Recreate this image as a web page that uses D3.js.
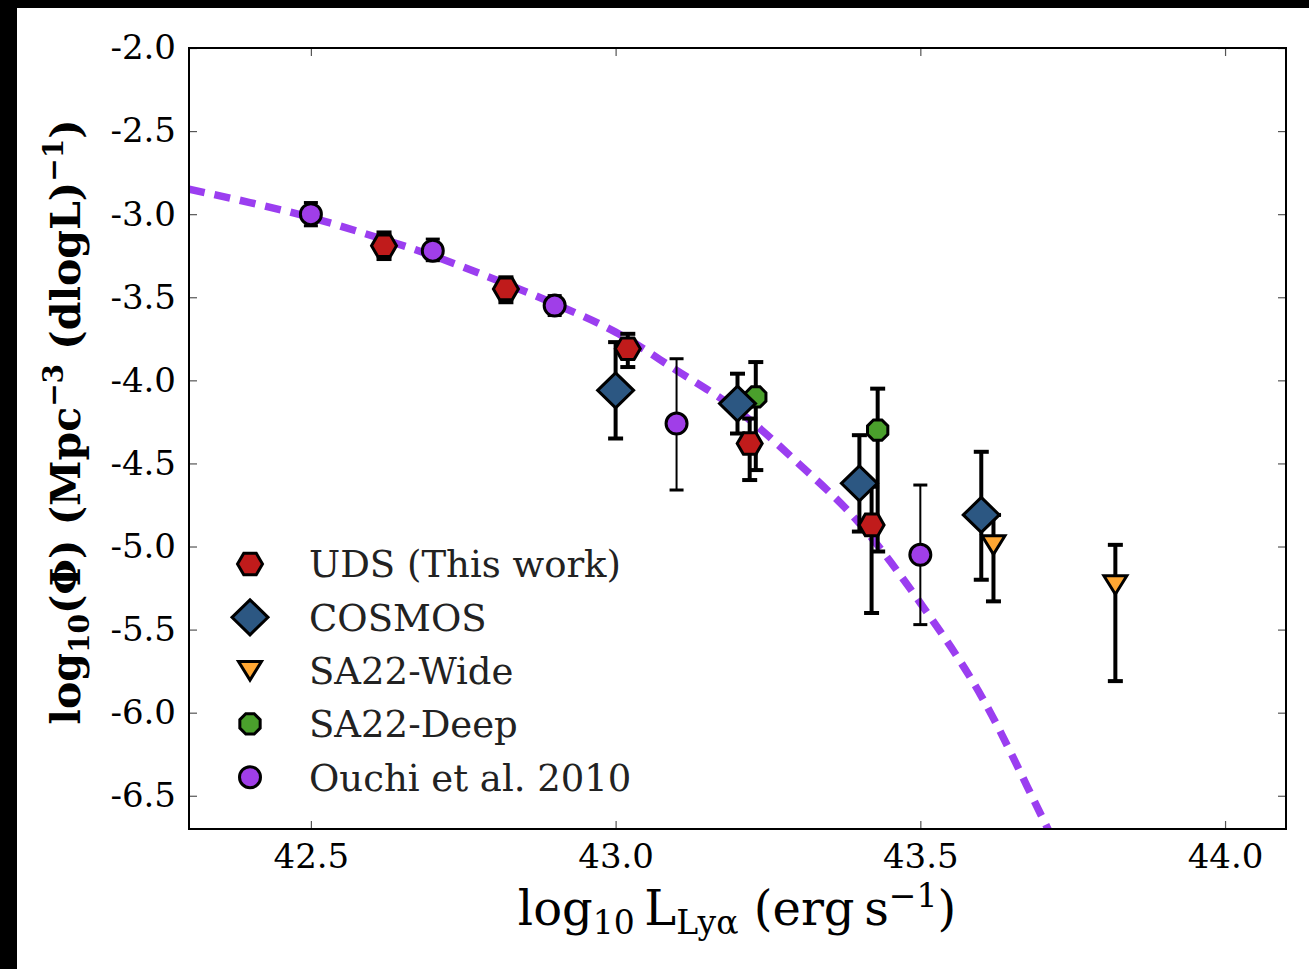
<!DOCTYPE html>
<html><head><meta charset="utf-8">
<script src="https://cdn.jsdelivr.net/npm/d3@7"></script>
<style>body{margin:0;background:#fff} svg{display:block}</style>
</head><body><svg id="c" width="1309" height="969"></svg>
<script>
// ---- data ----
const xTicks = [42.5, 43.0, 43.5, 44.0];
const yTicks = [-2.0, -2.5, -3.0, -3.5, -4.0, -4.5, -5.0, -5.5, -6.0, -6.5];

const udsX = [42.62, 42.82, 43.02, 43.22, 43.42];
const udsY = [-3.19, -3.45, -3.81, -4.38, -4.87];
const udsUp = [0.08, 0.07, 0.09, 0.15, 0.23];
const udsDn = [0.08, 0.08, 0.11, 0.22, 0.53];

const cosmosX = [43.0, 43.2, 43.4, 43.6];
const cosmosY = [-4.06, -4.14, -4.62, -4.81];
const cosmosUp = [0.29, 0.18, 0.29, 0.38];
const cosmosDn = [0.29, 0.18, 0.29, 0.39];

const wideX = [43.62, 43.82];
const wideY = [-4.99, -5.23];
const wideUp = [0.18, 0.24];
const wideDn = [0.34, 0.58];

const deepX = [43.23, 43.43];
const deepY = [-4.10, -4.30];
const deepUp = [0.21, 0.25];
const deepDn = [0.44, 0.73];

const ouchiX = [42.5, 42.7, 42.9, 43.1, 43.5];
const ouchiY = [-3.00, -3.22, -3.55, -4.26, -5.05];
const ouchiUp = [0.07, 0.07, 0.06, 0.39, 0.42];
const ouchiDn = [0.07, 0.06, 0.06, 0.40, 0.42];

// dashed fit curve
const fitX = [42.30, 42.40, 42.50, 42.60, 42.70, 42.80, 42.90, 43.00, 43.10, 43.20, 43.30, 43.40, 43.50, 43.60, 43.70, 43.72];
const fitY = [-2.85, -2.93, -3.02, -3.13, -3.25, -3.39, -3.54, -3.71, -3.94, -4.18, -4.50, -4.86, -5.34, -5.90, -6.63, -6.78];

const legendLabels = ["UDS (This work)", "COSMOS", "SA22-Wide", "SA22-Deep", "Ouchi et al. 2010"];

// ---- drawing ----
const svg = d3.select("#c");
const W = 1309, H = 969;
const L = 189, R = 1286, T = 48, B = 829;
const x = d3.scaleLinear().domain([42.3, 44.1]).range([L, R]);
const y = d3.scaleLinear().domain([-6.7, -2.0]).range([B, T]);
const FONT = "DejaVu Serif";

svg.append("rect").attr("width", W).attr("height", H).attr("fill", "#fff");
svg.append("rect").attr("x", 0).attr("y", 0).attr("width", W).attr("height", 8).attr("fill", "#000");
svg.append("rect").attr("x", 0).attr("y", 0).attr("width", 17).attr("height", H).attr("fill", "#000");

svg.append("defs").append("clipPath").attr("id", "clip")
  .append("rect").attr("x", L).attr("y", T).attr("width", R - L).attr("height", B - T);

const fmt = d => d.toFixed(1);
function styleAxis(g) {
  g.select(".domain").remove();
  g.selectAll(".tick line").attr("stroke", "#555").attr("stroke-width", 1.2);
  g.selectAll(".tick text").attr("font-family", FONT).attr("font-size", 34).attr("fill", "#000");
}
svg.append("g").attr("transform", `translate(0,${B})`)
  .call(d3.axisBottom(x).tickValues(xTicks).tickFormat(fmt).tickSizeInner(-8).tickSizeOuter(0).tickPadding(15))
  .call(styleAxis);
svg.append("g").attr("transform", `translate(0,${T})`)
  .call(d3.axisTop(x).tickValues(xTicks).tickFormat("").tickSizeInner(-8).tickSizeOuter(0))
  .call(styleAxis);
svg.append("g").attr("transform", `translate(${L},0)`)
  .call(d3.axisLeft(y).tickValues(yTicks).tickFormat(fmt).tickSizeInner(-8).tickSizeOuter(0).tickPadding(13))
  .call(styleAxis);
svg.append("g").attr("transform", `translate(${R},0)`)
  .call(d3.axisRight(y).tickValues(yTicks).tickFormat("").tickSizeInner(-8).tickSizeOuter(0))
  .call(styleAxis);

// fit curve
const plot = svg.append("g").attr("clip-path", "url(#clip)");
plot.append("path")
  .datum(fitX.map((v, i) => [v, fitY[i]]))
  .attr("d", d3.line().x(d => x(d[0])).y(d => y(d[1])).curve(d3.curveMonotoneX))
  .attr("fill", "none").attr("stroke", "#9b3ef0").attr("stroke-width", 7.5)
  .attr("stroke-dasharray", "16,10");

// marker shapes
function poly(n, r, rot) {
  const pts = [];
  for (let k = 0; k < n; k++) {
    const a = rot + k * 2 * Math.PI / n;
    pts.push([r * Math.cos(a), r * Math.sin(a)]);
  }
  return "M" + pts.map(p => p.join(",")).join("L") + "Z";
}
const shapes = {
  hex: poly(6, 12.5, 0),
  diamond: "M-18,0L0,-17.5L18,0L0,17.5Z",
  tri: "M-11.5,-9L11.5,-9L0,9.5Z",
  oct: poly(8, 11, Math.PI / 8)
};

const series = [
  { xs: udsX, ys: udsY, up: udsUp, dn: udsDn, shape: "hex", fill: "#c01b1b", thick: true },
  { xs: wideX, ys: wideY, up: wideUp, dn: wideDn, shape: "tri", fill: "#ffa733", thick: true },
  { xs: deepX, ys: deepY, up: deepUp, dn: deepDn, shape: "oct", fill: "#4aa02c", thick: true },
  { xs: ouchiX, ys: ouchiY, up: ouchiUp, dn: ouchiDn, shape: "circle", fill: "#a03ee8", thick: false },
  { xs: cosmosX, ys: cosmosY, up: cosmosUp, dn: cosmosDn, shape: "diamond", fill: "#2c5782", thick: true }
];

const eg = svg.append("g");
series.forEach(s => {
  const lw = s.thick ? 4 : 2, cw = s.thick ? 7.5 : 7, clw = s.thick ? 4 : 3;
  s.xs.forEach((xv, i) => {
    const cx = x(xv), y1 = y(s.ys[i] + s.up[i]), y2 = y(s.ys[i] - s.dn[i]);
    eg.append("line").attr("x1", cx).attr("x2", cx).attr("y1", y1).attr("y2", y2)
      .attr("stroke", "#000").attr("stroke-width", lw);
    [y1, y2].forEach(yy => eg.append("line").attr("x1", cx - cw).attr("x2", cx + cw)
      .attr("y1", yy).attr("y2", yy).attr("stroke", "#000").attr("stroke-width", clw));
  });
});

function marker(g, shape, fill, cx, cy) {
  if (shape === "circle") {
    g.append("circle").attr("cx", cx).attr("cy", cy).attr("r", 10.5)
      .attr("fill", fill).attr("stroke", "#000").attr("stroke-width", 3);
  } else {
    g.append("path").attr("d", shapes[shape]).attr("transform", `translate(${cx},${cy})`)
      .attr("fill", fill).attr("stroke", "#000").attr("stroke-width", 3).attr("stroke-linejoin", "miter");
  }
}
const mg = svg.append("g");
series.forEach(s => s.xs.forEach((xv, i) => marker(mg, s.shape, s.fill, x(xv), y(s.ys[i]))));

// frame
svg.append("rect").attr("x", L).attr("y", T).attr("width", R - L).attr("height", B - T)
  .attr("fill", "none").attr("stroke", "#000").attr("stroke-width", 2);

// legend
const legOrder = [0, 4, 1, 2, 3]; // UDS, COSMOS, Wide, Deep, Ouchi
const lg = svg.append("g");
legOrder.forEach((si, k) => {
  const s = series[si];
  const ly = 564 + k * 53.3;
  marker(lg, s.shape, s.fill, 250, ly);
  lg.append("text").attr("x", 309).attr("y", ly).attr("dy", "0.36em")
    .attr("font-family", FONT).attr("font-size", 37).attr("fill", "#222")
    .text(legendLabels[k]);
});

// axis labels
const xl = svg.append("text").attr("x", 737).attr("y", 925).attr("text-anchor", "middle")
  .attr("font-family", FONT).attr("font-size", 48).attr("fill", "#000");
xl.append("tspan").text("log");
xl.append("tspan").attr("font-size", 33).attr("dy", 9).text("10");
xl.append("tspan").attr("dy", -9).text("\u2009L");
xl.append("tspan").attr("font-size", 33).attr("dy", 9).text("Ly\u03b1");
xl.append("tspan").attr("dy", -9).text(" (erg\u2009s");
xl.append("tspan").attr("font-size", 33).attr("dy", -18).text("\u22121");
xl.append("tspan").attr("dy", 18).text(")");

const yl = svg.append("text").attr("transform", "translate(80,422) rotate(-90)").attr("text-anchor", "middle")
  .attr("font-family", FONT).attr("font-size", 41).attr("font-weight", "bold").attr("fill", "#000");
yl.append("tspan").text("log");
yl.append("tspan").attr("font-size", 28).attr("dy", 9).text("10");
yl.append("tspan").attr("dy", -9).text("(\u03a6) (Mpc");
yl.append("tspan").attr("font-size", 28).attr("dy", -17).text("\u22123");
yl.append("tspan").attr("dy", 17).text(" (dlogL)");
yl.append("tspan").attr("font-size", 28).attr("dy", -17).text("\u22121");
yl.append("tspan").attr("dy", 17).text(")");
</script></body></html>
